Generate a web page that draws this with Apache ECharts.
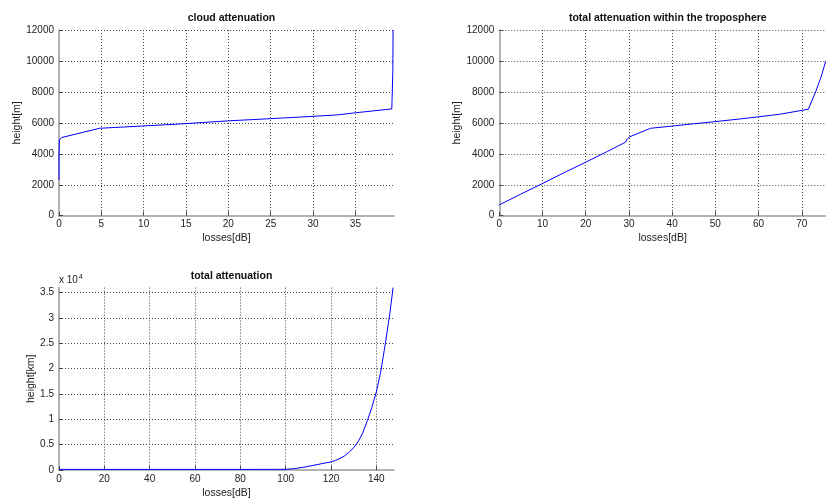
<!DOCTYPE html>
<html><head><meta charset="utf-8">
<script src="https://cdn.jsdelivr.net/npm/echarts@6/dist/echarts.min.js"></script>
<style>html,body{margin:0;padding:0;background:#fff}#c{width:826px;height:500px}</style>
</head><body><div id="c"></div>
<script>
const titles = ['cloud attenuation', 'total attenuation within the troposphere', 'total attenuation'];
const xNames = ['losses[dB]', 'losses[dB]', 'losses[dB]'];
const yNames = ['height[m]', 'height[m]', 'height[km]'];

const cloudLoss   = [0, 0, 0.05, 0.3, 4.8, 10, 15, 20, 25, 30, 33, 35, 39.3, 39.33, 39.42, 39.45];
const cloudHeight = [2300, 4000, 4900, 5050, 5650, 5800, 5950, 6130, 6270, 6420, 6520, 6650, 6900, 6950, 9300, 12000];

const tropoLoss   = [0, 5, 10, 15, 20, 25, 29.2, 29.6, 30.2, 35, 40, 45, 50, 55, 60, 65, 71.5, 73.2, 74.5, 75.55];
const tropoHeight = [700, 1400, 2080, 2780, 3460, 4150, 4750, 4950, 5100, 5650, 5790, 5940, 6080, 6230, 6390, 6560, 6880, 8000, 9000, 10000];

const totalLoss   = [0, 20, 40, 60, 80, 100, 104, 108, 112, 116, 120, 122, 124, 126, 128, 130, 132, 134, 136, 138, 140, 142, 144, 146, 147.4];
const totalHeight = [120, 120, 120, 120, 120, 130, 280, 550, 900, 1250, 1600, 1900, 2300, 2800, 3500, 4400, 5600, 7300, 9700, 12300, 15400, 19500, 25000, 31000, 36000];

const FONT = 'Liberation Sans, Arial, sans-serif';
const grids = [
  {left: 59, top: 30, width: 335, height: 185.7},
  {left: 499.3, top: 30, width: 327, height: 185.7},
  {left: 59, top: 287.6, width: 335, height: 184.7}
];
const xCfg = [{max: 39.56, interval: 5}, {max: 75.6, interval: 10}, {max: 147.8, interval: 20}];
const yCfg = [{max: 12000, interval: 2000, fmt: v => String(v), gap: 34},
              {max: 12000, interval: 2000, fmt: v => String(v), gap: 34},
              {max: 36000, interval: 5000, fmt: v => String(v / 10000), gap: 22}];

const splitStyle = {show: true, showMinLine: false, showMaxLine: false, lineStyle: {color: '#444', width: 1, type: [1, 2]}};
const axisLineStyle = {show: true, onZero: false, lineStyle: {color: '#999', width: 1.5}};
const labelStyle = {color: '#222', fontSize: 10, fontFamily: FONT};
const nameStyle = {color: '#222', fontSize: 10.5, fontFamily: FONT};

const option = {
  backgroundColor: '#fff',
  animation: false,
  title: titles.map((t, i) => ({
    text: t, left: grids[i].left + grids[i].width / 2, textAlign: 'center',
    top: i < 2 ? 8 : 266,
    textStyle: {fontSize: 10.5, fontWeight: 'bold', color: '#111', fontFamily: FONT}
  })),
  grid: grids,
  xAxis: xCfg.map((c, i) => ({
    type: 'value', gridIndex: i, min: 0, max: c.max, interval: c.interval,
    name: xNames[i], nameLocation: 'middle', nameGap: i < 2 ? 17 : 18, nameTextStyle: nameStyle,
    axisLine: axisLineStyle,
    axisTick: {show: true, inside: true, length: 4, lineStyle: {color: '#444'}},
    axisLabel: Object.assign({margin: 4, showMaxLabel: false, formatter: v => String(v)}, labelStyle),
    splitLine: splitStyle
  })),
  yAxis: yCfg.map((c, i) => ({
    type: 'value', gridIndex: i, min: 0, max: c.max, interval: c.interval,
    name: yNames[i], nameLocation: 'middle', nameGap: c.gap, nameTextStyle: nameStyle,
    axisLine: axisLineStyle,
    axisTick: {show: true, inside: true, length: 4, lineStyle: {color: '#444'}},
    axisLabel: Object.assign({margin: 5, showMaxLabel: i < 2, formatter: c.fmt}, labelStyle),
    splitLine: Object.assign({}, splitStyle, {showMaxLine: i < 2})
  })),
  graphic: [{
    type: 'text', left: 59, top: 274,
    style: {
      text: '{a|x 10}{b|4}',
      rich: {a: {fontSize: 10, fontFamily: FONT, fill: '#222'}, b: {fontSize: 7, fontFamily: FONT, fill: '#222', verticalAlign: 'top', padding: [0, 0, 6, 1]}}
    }
  }],
  series: [
    {type: 'line', xAxisIndex: 0, yAxisIndex: 0, data: cloudLoss.map((x, k) => [x, cloudHeight[k]])},
    {type: 'line', xAxisIndex: 1, yAxisIndex: 1, data: tropoLoss.map((x, k) => [x, tropoHeight[k]])},
    {type: 'line', xAxisIndex: 2, yAxisIndex: 2, data: totalLoss.map((x, k) => [x, totalHeight[k]])}
  ].map(s => Object.assign(s, {showSymbol: false, symbol: 'none', smooth: false, clip: false,
      lineStyle: {color: '#0000ff', width: 1}}))
};
echarts.init(document.getElementById('c'), null, {renderer: 'canvas'}).setOption(option);
</script></body></html>
